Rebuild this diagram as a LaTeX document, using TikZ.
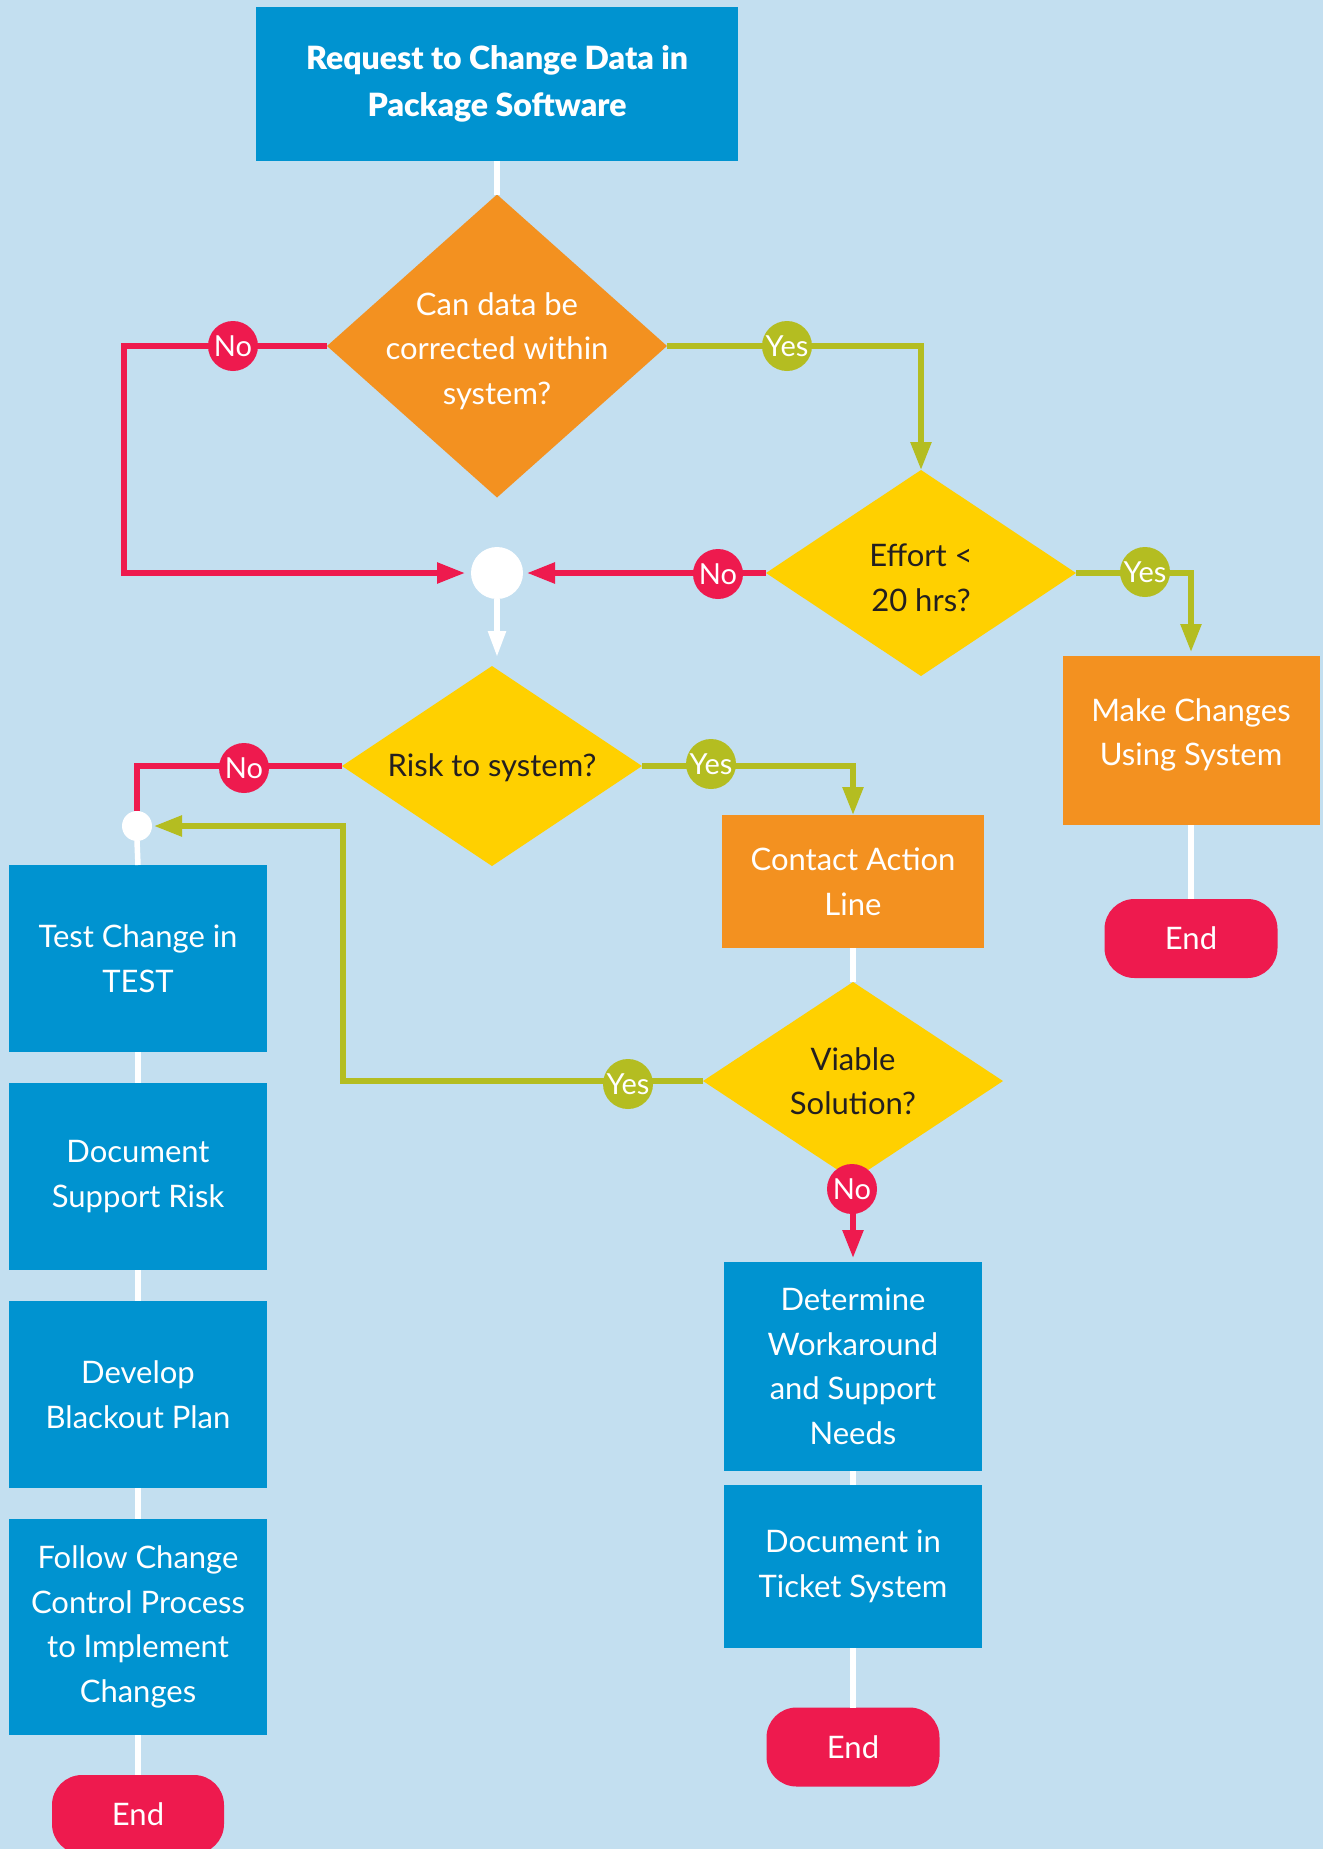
\documentclass[tikz,border=0pt]{standalone}
\usepackage{fontspec}
\setmainfont{Lato}
\newfontfamily\titlefont{Lato Black}
\usetikzlibrary{arrows.meta,shapes.geometric}
\definecolor{cbg}{RGB}{195,223,240}
\definecolor{cblue}{RGB}{0,147,208}
\definecolor{corange}{RGB}{243,145,32}
\definecolor{cyellow}{RGB}{255,208,0}
\definecolor{cred}{RGB}{238,26,78}
\definecolor{cgreen}{RGB}{180,189,33}
\definecolor{cdark}{RGB}{35,31,32}
\begin{document}
\begin{tikzpicture}[x=1pt,y=-1pt,
  base/.style={inner sep=0pt, outer sep=0pt, align=center, font=\fontsize{31}{44.5}\selectfont},
  bluebox/.style={base, rectangle, fill=cblue, text=white},
  orangebox/.style={base, rectangle, fill=corange, text=white},
  termbox/.style={base, rectangle, rounded corners=30pt, fill=cred, text=white, minimum width=173pt, minimum height=79pt},
  dia/.style={diamond, inner sep=0pt, outer sep=0pt},
  dtext/.style={base},
  jn/.style={circle, fill=white, inner sep=0pt, outer sep=0pt},
  lab/.style={circle, inner sep=0pt, minimum size=50pt, text=white, font=\fontsize{29}{29}\selectfont},
  nolab/.style={lab, fill=cred},
  yeslab/.style={lab, fill=cgreen},
  wline/.style={draw=white, line width=5.5pt},
  rline/.style={draw=cred, line width=5.5pt},
  gline/.style={draw=cgreen, line width=5.5pt},
  arr/.style={-{Triangle[length=28pt,width=20pt]}},
  warr/.style={-{Triangle[length=26pt,width=17pt]}}
]
\path[use as bounding box, fill=cbg] (0,0) rectangle (1323,1849);

% nodes
\node[bluebox, minimum width=482pt, minimum height=154pt, font=\fontsize{32}{47}\titlefont] (top) at (497,84) {Request to Change Data in\\Package Software};
\node[dia, fill=corange, minimum width=340pt, minimum height=303pt] (d1) at (497,346) {};
\node[dtext, text=white] at (497,351) {Can data be\\corrected within\\system?};
\node[jn, minimum size=52pt] (j1) at (497,573) {};
\node[dia, fill=cyellow, minimum width=310pt, minimum height=206pt] (d2) at (921,573) {};
\node[dtext, text=cdark] at (921,578) {Effort <\\20 hrs?};
\node[orangebox, minimum width=257pt, minimum height=169pt] (make) at (1191,740.5) {};
\node[dtext, text=white] at (1191,735) {Make Changes\\Using System};
\node[termbox] (end1) at (1191,938.5) {End};
\node[dia, fill=cyellow, minimum width=300pt, minimum height=200pt] (d3) at (492,766) {};
\node[dtext, text=cdark] at (492,768) {Risk to system?};
\node[jn, minimum size=30pt] (j2) at (137,826) {};
\node[orangebox, minimum width=262pt, minimum height=133pt] (contact) at (853,881.5) {Contact Action\\Line};
\node[dia, fill=cyellow, minimum width=300pt, minimum height=198pt] (d4) at (853,1081) {};
\node[dtext, text=cdark] at (d4) {Viable\\Solution?};
\node[bluebox, minimum width=258pt, minimum height=209pt] (determine) at (853,1366.5) {Determine\\Workaround\\and Support\\Needs};
\node[bluebox, minimum width=258pt, minimum height=163pt] (ticket) at (853,1566.5) {Document in\\Ticket System};
\node[termbox] (end2) at (853,1747) {End};
\node[bluebox, minimum width=258pt, minimum height=187pt] (test) at (138,958.5) {Test Change in\\TEST};
\node[bluebox, minimum width=258pt, minimum height=187pt] (docrisk) at (138,1176.5) {Document\\Support Risk};
\node[bluebox, minimum width=258pt, minimum height=187pt] (develop) at (138,1394.5) {Develop\\Blackout Plan};
\node[bluebox, minimum width=258pt, minimum height=216pt] (follow) at (138,1627) {Follow Change\\Control Process\\to Implement\\Changes};
\node[termbox, minimum width=172pt] (end3) at (138,1814.5) {End};

% connectors
\draw[wline] (top.south) -- (d1.north);
\draw[rline, arr, shorten >=6pt] (d1.west) -| ([xshift=-347pt]j1.west) -- (j1.west);
\draw[gline, arr] (d1.east) -| (d2.north);
\draw[rline, arr, shorten >=4pt] (d2.west) -- (j1.east);
\draw[gline, arr, shorten >=4pt] (d2.east) -| (make.north);
\draw[wline] (make.south) -- (end1.north);
\draw[wline, warr, shorten >=9pt] (j1.south) -- (j1.south |- d3.north);
\draw[rline] (d3.west) -| (j2.north);
\draw[gline, arr] (d3.east) -| (contact.north);
\draw[wline] (contact.south) -- (d4.north);
\draw[gline, arr, shorten >=2pt] (d4.west) -| ([xshift=191pt]j2.east) -- (j2.east);
\draw[rline, arr, shorten >=4pt] (d4.south) -- (determine.north);
\draw[wline] (determine.south) -- (ticket.north);
\draw[wline] (ticket.south) -- (end2.north);
\draw[wline] (j2.south) -- (test.north);
\draw[wline] (test.south) -- (docrisk.north);
\draw[wline] (docrisk.south) -- (develop.north);
\draw[wline] (develop.south) -- (follow.north);
\draw[wline] (follow.south) -- (end3.north);

% labels
\node[nolab] (n1) at (233,346) {No};
\node[yeslab] (y1) at (787,346) {Yes};
\node[nolab] (n2) at (718,574) {No};
\node[yeslab] (y2) at (1145,572) {Yes};
\node[nolab] (n3) at (244,768) {No};
\node[yeslab] (y3) at (711,764) {Yes};
\node[yeslab] (y4) at (628,1084) {Yes};
\node[nolab] (n4) at (852,1189) {No};
\end{tikzpicture}
\end{document}
